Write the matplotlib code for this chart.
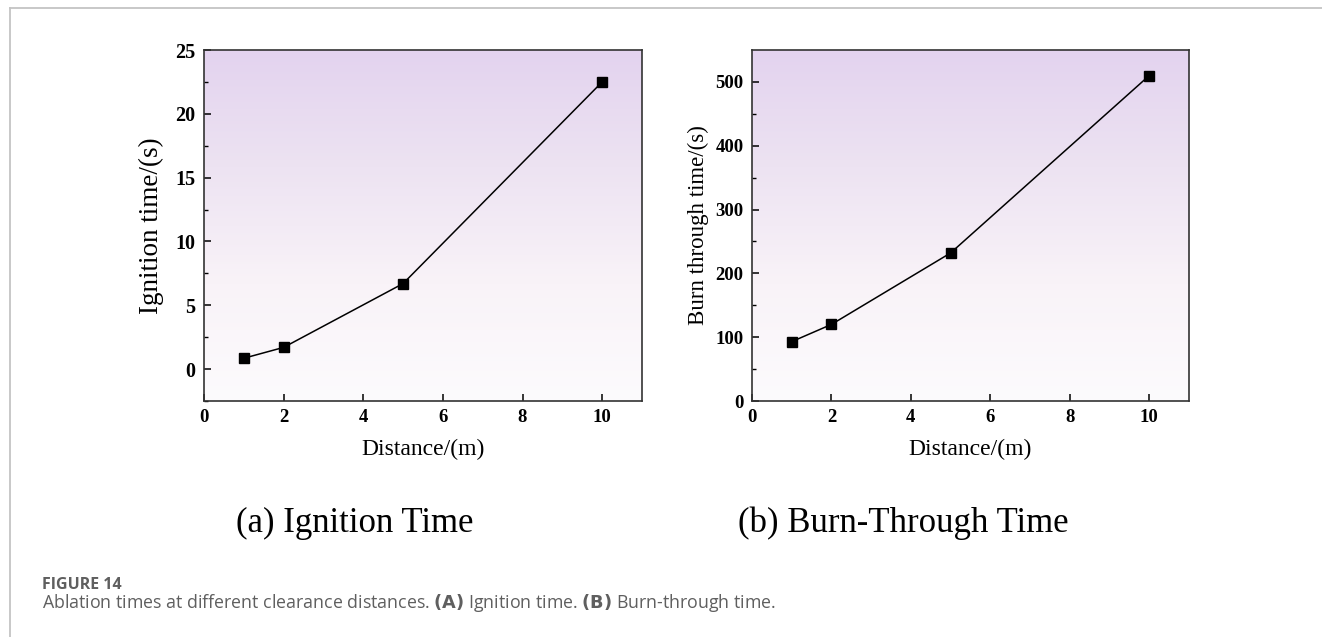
import numpy as np
import matplotlib
matplotlib.use("Agg")
import matplotlib.pyplot as plt
from matplotlib.colors import LinearSegmentedColormap
from matplotlib.lines import Line2D

# ---- data ----
distance = [1, 2, 5, 10]
ignition_time = [0.85, 1.7, 6.7, 22.5]
burn_through_time = [93, 120, 232, 510]
x_ticks = [0, 2, 4, 6, 8, 10]
ign_yticks = [0, 5, 10, 15, 20, 25]
burn_yticks = [0, 100, 200, 300, 400, 500]

W, H = 1322, 637
fig = plt.figure(figsize=(W / 100, H / 100), dpi=100)
fig.patch.set_facecolor("white")

serif = ["Liberation Serif", "DejaVu Serif"]
sans = ["Open Sans", "Noto Sans", "DejaVu Sans"]

cmap = LinearSegmentedColormap.from_list(
    "bg", ["#fcfbfd", "#f9f3f8", "#ede3f2", "#e3d3ef"], N=256)


def px_axes(l, t, r, b):
    return fig.add_axes([l / W, 1 - b / H, (r - l) / W, (b - t) / H])


def panel(ax, x, y, ylim, yticks, yminor, ylabel, ylabelsize, ylabelpad,
          yticksize):
    ax.set_xlim(0, 11)
    ax.set_ylim(*ylim)
    grad = np.linspace(0, 1, 256).reshape(-1, 1)
    ax.imshow(grad, cmap=cmap, aspect="auto", origin="lower",
              extent=[0, 11, ylim[0], ylim[1]], zorder=0)
    ax.plot(x, y, color="black", lw=1.1, marker="s", ms=6.5,
            mfc="black", mec="black", zorder=3)
    ax.set_xticks(x_ticks)
    ax.set_yticks(yticks)
    ax.set_yticks(yminor, minor=True)
    ax.tick_params(axis="both", which="major", direction="in", length=5,
                   width=1.1, pad=6, top=False, right=False)
    ax.tick_params(axis="y", which="minor", direction="in", length=3,
                   width=1.0, right=False)
    for lab in ax.get_xticklabels():
        lab.set_fontfamily(serif)
        lab.set_fontsize(13.5)
        lab.set_fontweight("bold")
    for lab in ax.get_yticklabels():
        lab.set_fontfamily(serif)
        lab.set_fontsize(yticksize)
        lab.set_fontweight("bold")
    for s in ax.spines.values():
        s.set_linewidth(1.2)
        s.set_color("#333333")
    ax.set_xlabel("Distance/(m)", fontfamily=serif, fontsize=17, labelpad=9)
    ax.set_ylabel(ylabel, fontfamily=serif, fontsize=ylabelsize,
                  labelpad=ylabelpad)


ax1 = px_axes(204, 50, 642, 401)
panel(ax1, distance, ignition_time, (-2.5, 25), ign_yticks,
      np.arange(-2.5, 25, 5), "Ignition time/(s)", 19.5, 8, 14.5)

ax2 = px_axes(752, 50, 1189, 401)
panel(ax2, distance, burn_through_time, (0, 550), burn_yticks,
      np.arange(50, 550, 100), "Burn through time/(s)", 16.5, 5, 13.5)

# sub captions
fig.text(355 / W, 1 - 523 / H, "(a) Ignition Time", fontfamily=serif,
         fontsize=25, ha="center", va="center")
fig.text(903 / W, 1 - 523 / H, "(b) Burn-Through Time", fontfamily=serif,
         fontsize=25, ha="center", va="center")

# figure caption
fig.text(42 / W, 1 - 585 / H, "FIGURE 14", fontfamily=sans, fontsize=11.5,
         fontweight="bold", color="#5f5f5f", ha="left", va="center")
fig.text(42 / W, 1 - 603 / H,
         "Ablation times at different clearance distances. $\\mathbf{(A)}$ Ignition time. $\\mathbf{(B)}$ Burn-through time.",
         fontfamily=sans, fontsize=12.8, color="#5f5f5f", ha="left", va="center")

# frame lines
fig.add_artist(Line2D([9.5 / W, 9.5 / W], [0, 1 - 8.3 / H],
                      transform=fig.transFigure, color="#c4c4c4", lw=1.3))
fig.add_artist(Line2D([9.5 / W, 1], [1 - 8.3 / H, 1 - 8.3 / H],
                      transform=fig.transFigure, color="#c4c4c4", lw=1.3))

fig.savefig("out.png", dpi=100)
